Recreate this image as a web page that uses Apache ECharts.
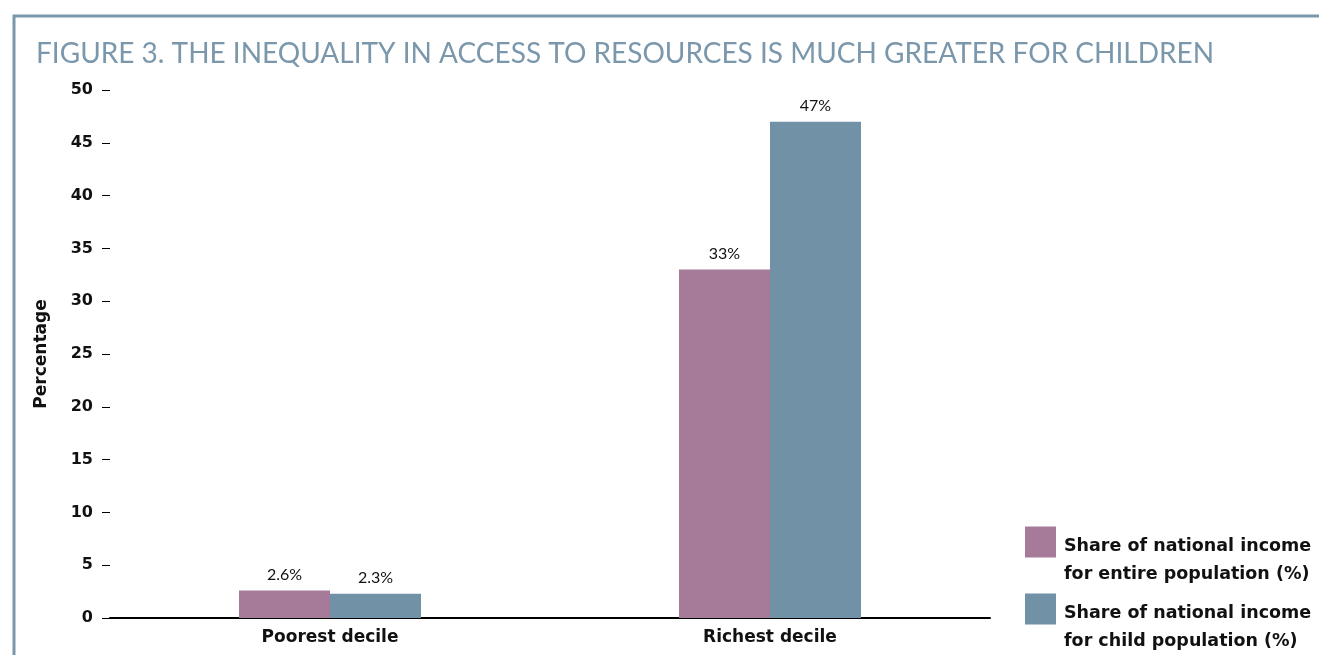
<!DOCTYPE html>
<html>
<head>
<meta charset="utf-8">
<script src="https://cdn.jsdelivr.net/npm/echarts@6/dist/echarts.min.js"></script>
<style>
  html, body { margin: 0; padding: 0; background: #ffffff; }
  #chart { width: 1319px; height: 655px; }
</style>
</head>
<body>
<div id="chart"></div>
<script>
// Income share by decile, entire population vs. children
const categories = ['Poorest decile', 'Richest decile'];
const entirePopulation = [2.6, 33];
const childPopulation = [2.3, 47];
const seriesNames = [
  'Share of national income\nfor entire population (%)',
  'Share of national income\nfor child population (%)'
];
const yTicks = { min: 0, max: 50, interval: 5 };

const PINK = '#a67b9a';
const SLATE = '#7191a6';
const FRAME = '#7a97ab';
const TITLE_FONT = 'Lato, "Open Sans", sans-serif';
const BOLD_FONT = '"DejaVu Sans", "Open Sans", sans-serif';

const chart = echarts.init(document.getElementById('chart'));

// Legend text: a blank leading spacer line drops the first real line level with the swatch
const legendBase = {
  left: 1025,
  padding: 0,
  itemWidth: 31,
  itemHeight: 31,
  itemGap: 13,
  icon: 'rect',
  formatter: name => '{g| }\n' + name.split('\n').map(s => '{t|' + s + '}').join('\n'),
  textStyle: {
    rich: {
      g: { lineHeight: 36, fontSize: 10 },
      t: {
        color: '#111',
        fontFamily: BOLD_FONT,
        fontWeight: 'bold',
        fontSize: 17.5,
        lineHeight: 28,
        padding: [0, 0, 0, 3]
      }
    }
  }
};

const valueLabel = {
  show: true,
  position: 'top',
  distance: 8,
  formatter: p => p.value + '%',
  color: '#111',
  fontFamily: TITLE_FONT,
  fontSize: 16
};

chart.setOption({
  animation: false,
  title: {
    text: 'FIGURE 3. THE INEQUALITY IN ACCESS TO RESOURCES IS MUCH GREATER FOR CHILDREN',
    left: 31,
    top: 35,
    textStyle: {
      color: FRAME,
      fontFamily: TITLE_FONT,
      fontWeight: 'normal',
      fontSize: 28
    }
  },
  graphic: [{
    type: 'rect',
    shape: { x: 14, y: 16, width: 1400, height: 700 },
    style: { fill: 'none', stroke: FRAME, lineWidth: 3 },
    silent: true
  }],
  legend: [
    Object.assign({}, legendBase, { data: [seriesNames[0]], top: 509 }),
    Object.assign({}, legendBase, { data: [seriesNames[1]], top: 576 })
  ],
  grid: { left: 110, right: 329, top: 90, bottom: 37, containLabel: false },
  xAxis: {
    type: 'category',
    data: categories,
    axisLine: { lineStyle: { color: '#000', width: 2 } },
    axisTick: { show: false },
    axisLabel: {
      color: '#111',
      fontFamily: BOLD_FONT,
      fontWeight: 'bold',
      fontSize: 17,
      margin: 11
    }
  },
  yAxis: {
    type: 'value',
    min: yTicks.min,
    max: yTicks.max,
    interval: yTicks.interval,
    name: 'Percentage',
    nameLocation: 'middle',
    nameGap: 60,
    nameTextStyle: {
      color: '#111',
      fontFamily: BOLD_FONT,
      fontWeight: 'bold',
      fontSize: 17
    },
    axisLine: { show: false },
    axisTick: { show: true, length: 8, lineStyle: { color: '#000', width: 1 } },
    splitLine: { show: false },
    axisLabel: {
      color: '#111',
      fontFamily: BOLD_FONT,
      fontWeight: 'bold',
      fontSize: 16,
      margin: 17
    }
  },
  series: [{
    name: seriesNames[0],
    type: 'bar',
    data: entirePopulation,
    barWidth: 91,
    barGap: '0%',
    itemStyle: { color: PINK },
    label: valueLabel
  }, {
    name: seriesNames[1],
    type: 'bar',
    data: childPopulation,
    barWidth: 91,
    barGap: '0%',
    itemStyle: { color: SLATE },
    label: valueLabel
  }]
});
</script>
</body>
</html>
